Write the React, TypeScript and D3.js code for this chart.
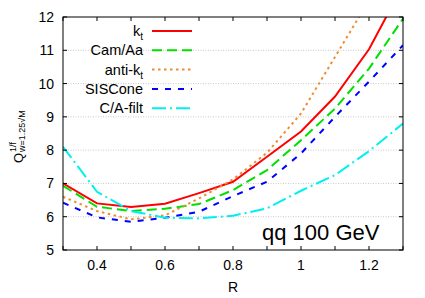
import * as d3 from "d3";

const R = [0.3, 0.4, 0.5, 0.6, 0.7, 0.8, 0.9, 1.0, 1.1, 1.2, 1.3];
const kt = [7.0, 6.4, 6.29, 6.39, 6.71, 7.05, 7.8, 8.56, 9.61, 11.03, 12.95];
const camAa = [6.93, 6.3, 6.17, 6.24, 6.38, 6.8, 7.4, 8.3, 9.25, 10.45, 11.95];
const antiKt = [6.6, 6.17, 5.92, 6.04, 6.55, 7.12, 7.92, 9.1, 10.8, 12.5, 14.3];
const sisCone = [6.42, 5.98, 5.85, 5.97, 6.15, 6.62, 7.05, 7.9, 9.0, 10.06, 11.15];
const caFilt = [8.1, 6.75, 6.17, 5.97, 5.95, 6.03, 6.25, 6.78, 7.25, 7.97, 8.8];

const xTicks = [0.4, 0.6, 0.8, 1.0, 1.2];
const xMinor = [0.3, 0.4, 0.5, 0.6, 0.7, 0.8, 0.9, 1.0, 1.1, 1.2, 1.3];
const yTicks = [5, 6, 7, 8, 9, 10, 11, 12];

const series = [
  { name: "k", sub: "t", values: kt, color: "#ff0000", dash: "none" },
  { name: "Cam/Aa", sub: "", values: camAa, color: "#00e000", dash: "10,5" },
  { name: "anti-k", sub: "t", values: antiKt, color: "#f08c30", dash: "2.5,3.5" },
  { name: "SISCone", sub: "", values: sisCone, color: "#0000ff", dash: "6,7" },
  { name: "C/A-filt", sub: "", values: caFilt, color: "#00f0f0", dash: "14,4,2,4" },
];

const W = 425;
const H = 298;
const left = 63, right = 403, top = 17, bottom = 250;

export default function App() {
  const x = d3.scaleLinear().domain([0.3, 1.3]).range([left, right]);
  const y = d3.scaleLinear().domain([5, 12]).range([bottom, top]);
  const line = d3.line<number>().x((_, i) => x(R[i])).y(d => y(d));
  const font = "'Liberation Sans', Arial, sans-serif";

  return (
    <svg width={W} height={H} style={{ position: "absolute", left: 0, top: 0, background: "#fff" }} fontFamily={font}>
      <defs>
        <clipPath id="plot">
          <rect x={left} y={top} width={right - left} height={bottom - top} />
        </clipPath>
      </defs>

      {/* grid */}
      {yTicks.slice(1, -1).map(t => (
        <line key={t} x1={left} x2={right} y1={y(t)} y2={y(t)} stroke="#bbb" strokeWidth={0.8} strokeDasharray="1,1.5" />
      ))}

      {/* curves */}
      <g clipPath="url(#plot)">
        {series.map(s => (
          <path key={s.name + s.sub} d={line(s.values) ?? ""} fill="none" stroke={s.color} strokeWidth={2} strokeDasharray={s.dash} />
        ))}
      </g>

      {/* frame */}
      <rect x={left} y={top} width={right - left} height={bottom - top} fill="none" stroke="#000" strokeWidth={1} />

      {/* ticks */}
      {xMinor.map(t => (
        <g key={t}>
          <line x1={x(t)} x2={x(t)} y1={bottom} y2={bottom - 4} stroke="#000" />
          <line x1={x(t)} x2={x(t)} y1={top} y2={top + 4} stroke="#000" />
        </g>
      ))}
      {yTicks.map(t => (
        <g key={t}>
          <line x1={left} x2={left + 4} y1={y(t)} y2={y(t)} stroke="#000" />
          <line x1={right} x2={right - 4} y1={y(t)} y2={y(t)} stroke="#000" />
          <text x={54} y={y(t) + 5} fontSize={14} textAnchor="end">{t}</text>
        </g>
      ))}
      {xTicks.map(t => (
        <text key={t} x={x(t)} y={270} fontSize={14} textAnchor="middle">{d3.format("~g")(t)}</text>
      ))}

      {/* axis titles */}
      <text x={x(0.8)} y={292} fontSize={14} textAnchor="middle">R</text>
      <g transform="translate(23,131) rotate(-90)">
        <text x={-32} y={0} fontSize={13}>Q</text>
        <text x={-21} y={-7} fontSize={9}>1/f</text>
        <text x={-21} y={2} fontSize={9}>w=1.25√M</text>
      </g>

      {/* legend */}
      {series.map((s, i) => {
        const ly = 31 + i * 19.3;
        return (
          <g key={"lg" + i}>
            <text x={143} y={ly + 5} fontSize={14.5} textAnchor="end">
              {s.name}
              {s.sub && <tspan fontSize={10} dy={4}>{s.sub}</tspan>}
            </text>
            <line x1={152} x2={192} y1={ly} y2={ly} stroke={s.color} strokeWidth={2} strokeDasharray={s.dash} />
          </g>
        );
      })}

      <text x={262} y={240} fontSize={22}>qq 100 GeV</text>
    </svg>
  );
}
